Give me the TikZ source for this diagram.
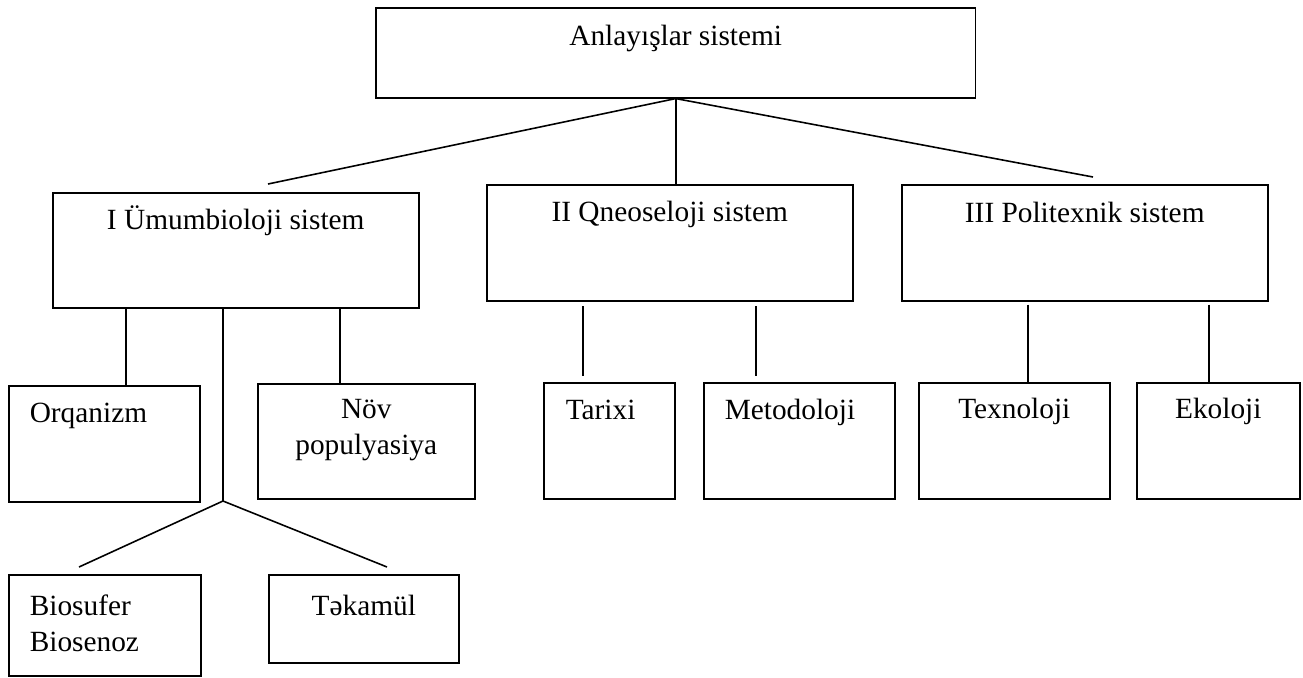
\documentclass[tikz,border=0pt]{standalone}
\usepackage{fontspec}
\setmainfont{Liberation Serif}
\usepackage{tikz}
\tikzset{
  sysbox/.style = {draw, rectangle, inner sep=0pt, anchor=north west,
    minimum height=2.32cm},% sistem qutusu
  lbl/.style = {inner sep=0pt, font=\fontsize{16.7}{20.5}\selectfont},% yazi
  gap/.style = {shorten <=0.09cm, shorten >=0.13cm},% qutuya toxunmayan xett
  gapt/.style = {shorten <=0.06cm}% yalniz yuxaridan
}

\begin{document}
\begin{tikzpicture}[x=0.02cm, y=-0.02cm, line width=0.9pt]
\useasboundingbox (0,0) rectangle (1303,677);
% qutular
\node [sysbox, minimum width=12cm, minimum height=1.8cm] (root) at (375,7) {};
\node [sysbox, minimum width=7.32cm, minimum height=2.3cm] (bio) at (52,192) {};
\node [sysbox, minimum width=7.32cm] (gno) at (486,184) {};
\node [sysbox, minimum width=7.32cm] (pol) at (901,184) {};
\node [sysbox, minimum width=3.82cm] (org) at (8,385) {};
\node [sysbox, minimum width=4.34cm, minimum height=2.3cm] (nov) at (257,383) {};
\node [sysbox, minimum width=3.84cm, minimum height=2.02cm] (bsf) at (8,574) {};
\node [sysbox, minimum width=3.8cm, minimum height=1.76cm] (tek) at (268,574) {};
\node [sysbox, minimum width=2.62cm] (tar) at (543,382) {};
\node [sysbox, minimum width=3.82cm] (met) at (703,382) {};
\node [sysbox, minimum width=3.82cm] (tex) at (918,382) {};
\node [sysbox, minimum width=3.26cm] (eko) at (1136,382) {};
% yazilar
\node [lbl, anchor=base] at ([yshift=-0.78cm]root.north) {Anlayışlar sistemi};
\node [lbl, anchor=base] at ([yshift=-0.76cm]bio.north) {I Ümumbioloji sistem};
\node [lbl, anchor=base] at ([yshift=-0.76cm]gno.north) {II Qneoseloji sistem};
\node [lbl, anchor=base] at ([yshift=-0.78cm]pol.north) {III Politexnik sistem};
\node [lbl, anchor=base west] at ([xshift=0.42cm,yshift=-0.76cm]org.north west) {Orqanizm};
\node [lbl, anchor=base, align=center] at ([yshift=-1.44cm]nov.north) {Növ\\populyasiya};
\node [lbl, anchor=base west, align=left] at ([xshift=0.42cm,yshift=-1.56cm]bsf.north west) {Biosufer\\Biosenoz};
\node [lbl, anchor=base] at ([yshift=-0.82cm]tek.north) {Təkamül};
\node [lbl, anchor=base west] at ([xshift=0.44cm,yshift=-0.76cm]tar.north west) {Tarixi};
\node [lbl, anchor=base west] at ([xshift=0.42cm,yshift=-0.76cm]met.north west) {Metodoloji};
\node [lbl, anchor=base] at ([yshift=-0.72cm]tex.north) {Texnoloji};
\node [lbl, anchor=base] at ([yshift=-0.72cm]eko.north) {Ekoloji};
% xettler
\coordinate (t1) at (268,184);
\coordinate (t3) at (1093,177);
\draw (root.south) -- (t1);
\draw (root.south) -- (root.south |- gno.north);
\draw (root.south) -- (t3);
% I
\coordinate (k1) at (126,0);
\coordinate (k2) at (340,0);
\coordinate (v) at (223,501);
\coordinate (w1) at (79,567);
\coordinate (w2) at (387,567);
\draw (k1 |- bio.south) -- (k1 |- org.north);
\draw (k2 |- bio.south) -- (k2 |- nov.north);
\draw (v |- bio.south) -- (v);
\draw (w1) -- (v) -- (w2);
% II
\coordinate (k3) at (583,0);
\coordinate (k4) at (756,0);
\draw [gap] (k3 |- gno.south) -- (k3 |- tar.north);
\draw [gap] (k4 |- gno.south) -- (k4 |- met.north);
% III
\coordinate (k5) at (1028,0);
\coordinate (k6) at (1209,0);
\draw [gapt] (k5 |- pol.south) -- (k5 |- tex.north);
\draw [gapt] (k6 |- pol.south) -- (k6 |- eko.north);
\end{tikzpicture}
\end{document}
